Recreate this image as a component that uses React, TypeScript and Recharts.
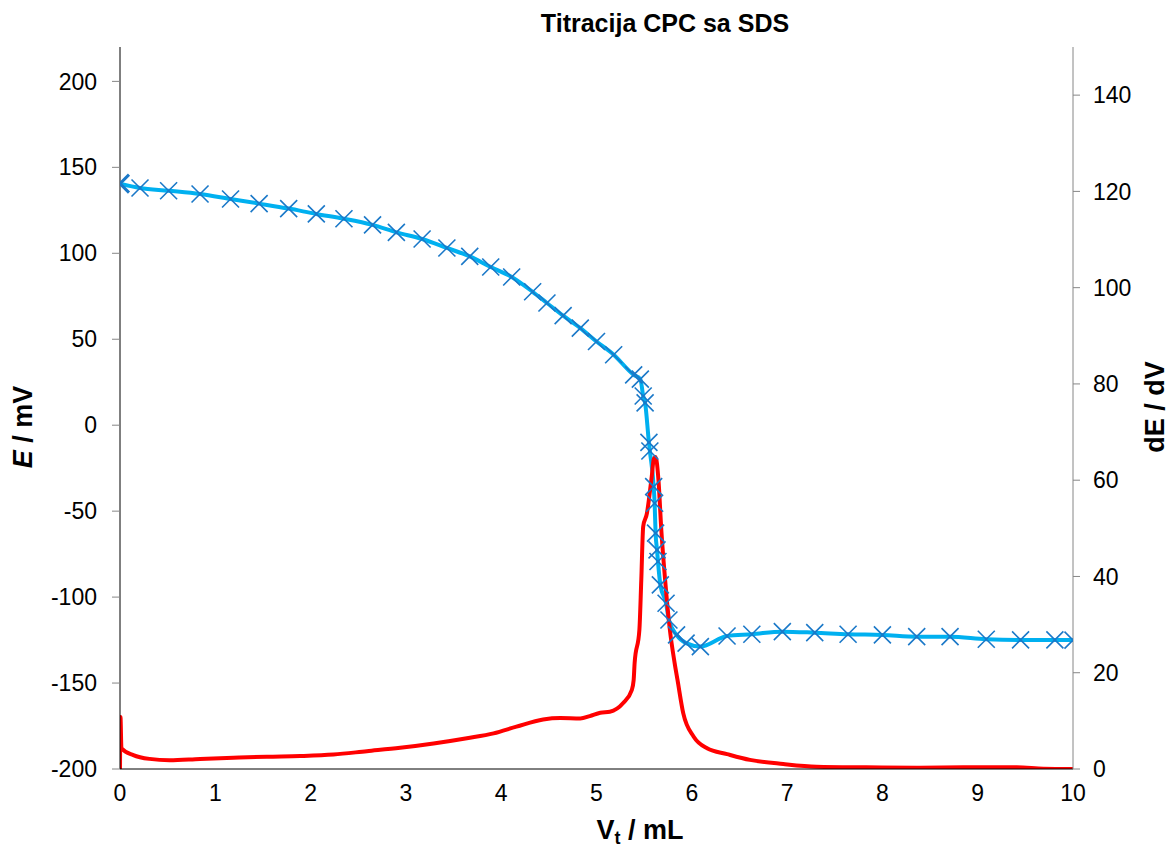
import React from "react";
import { LineChart, Line, XAxis, YAxis } from "recharts";

// potential curve, E / mV vs added volume
const volumeE = [
  0, 0.21, 0.51, 0.84, 1.16, 1.46, 1.77, 2.06, 2.35, 2.65, 2.9, 3.17, 3.43,
  3.67, 3.89, 4.11, 4.33, 4.48, 4.65, 4.83, 5.0, 5.18, 5.39, 5.46, 5.49, 5.51,
  5.55, 5.56, 5.6, 5.61, 5.62, 5.635, 5.645, 5.67, 5.73, 5.76, 5.84, 5.94,
  6.09, 6.37, 6.63, 6.95, 7.29, 7.64, 8.0, 8.36, 8.71, 9.09, 9.45, 9.81, 10,
];
const potentialE = [
  140.5, 138, 136.4, 134.5, 131.6, 128.9, 126, 122.9, 120.1, 116.5, 112.2,
  108.3, 103.1, 98.2, 92, 86.2, 77.6, 71.1, 63.7, 56.5, 48.7, 41, 29.3, 26.8,
  17, 13, -10, -15, -35.7, -45.4, -62.8, -72.5, -79.3, -92.9, -103.6, -113.3,
  -122, -126.8, -128.8, -122.6, -121.6, -120.1, -120.7, -121.6, -122, -123,
  -123, -124.5, -124.9, -124.9, -125,
];

// first derivative, dE / dV
const volumeDeriv = [
  0, 0.005, 0.015, 0.14, 0.31, 0.52, 0.84, 1.19, 1.54, 1.89, 2.24, 2.59, 2.94,
  3.29, 3.64, 3.92, 4.16, 4.44, 4.62, 4.83, 4.93, 5.04, 5.14, 5.28, 5.37, 5.39,
  5.4, 5.45, 5.47, 5.49, 5.53, 5.55, 5.58, 5.6, 5.62, 5.65, 5.68, 5.72, 5.77,
  5.82, 5.85, 5.91, 6.02, 6.16, 6.37, 6.61, 6.96, 7.31, 7.83, 8.36, 8.88, 9.41,
  9.69, 10,
];
const derivative = [
  0, 10.8, 4.3, 2.9, 2.1, 1.8, 2.1, 2.35, 2.56, 2.7, 3.0, 3.7, 4.4, 5.3, 6.4,
  7.4, 8.8, 10.3, 10.6, 10.5, 11, 11.7, 11.9, 13.7, 16.4, 18.5, 22, 28.9, 39.3,
  50.4, 53.2, 56, 60.8, 64.3, 64.8, 60.1, 49.7, 39.3, 28.9, 22, 18.5, 11.6, 6.7,
  4.3, 3.1, 1.9, 1.04, 0.48, 0.35, 0.27, 0.35, 0.35, 0.07, 0,
];

const xTicks = [0, 1, 2, 3, 4, 5, 6, 7, 8, 9, 10];
const leftTicks = [-200, -150, -100, -50, 0, 50, 100, 150, 200];
const rightTicks = [0, 20, 40, 60, 80, 100, 120, 140];

const potentialData = volumeE.map((v, i) => ({ v, E: potentialE[i] }));
const derivData = volumeDeriv.map((v, i) => ({ v, dE: derivative[i] }));

const font = "'Liberation Sans', Arial, sans-serif";
const tickStyle = { fontSize: 23, fill: "#000", fontFamily: font };

function Cross(props: any) {
  const { cx, cy, index } = props;
  if (cx == null || cy == null) return <g key={`c-${index}`} />;
  // first reading is drawn heavier, as in the original sheet
  const s = index === 0 ? 9 : 8.5;
  return (
    <path
      key={`c-${index}`}
      d={`M${cx - s},${cy - s}L${cx + s},${cy + s}M${cx - s},${cy + s}L${cx + s},${cy - s}`}
      stroke="#1a78c8"
      strokeWidth={index === 0 ? 3 : 1.6}
      fill="none"
    />
  );
}

export default function App() {
  return (
    <div
      style={{
        position: "absolute",
        left: 0,
        top: 0,
        width: 1170,
        height: 856,
        background: "#fff",
        fontFamily: font,
      }}
    >
      <LineChart
        width={1170}
        height={856}
        margin={{ top: 47, right: 0, bottom: 27, left: 0 }}
      >
        <XAxis
          type="number"
          dataKey="v"
          domain={[0, 10]}
          ticks={xTicks}
          allowDataOverflow
          height={60}
          tickLine={false}
          tickSize={0}
          tickMargin={16}
          axisLine={{ stroke: "#000", strokeWidth: 1 }}
          tick={tickStyle}
        />
        <YAxis
          yAxisId="left"
          domain={[-200, 220]}
          ticks={leftTicks}
          allowDataOverflow
          width={120}
          tickSize={8}
          tickMargin={15}
          axisLine={{ stroke: "#000", strokeWidth: 1 }}
          tickLine={{ stroke: "#868686" }}
          tick={tickStyle}
        />
        <YAxis
          yAxisId="right"
          orientation="right"
          domain={[0, 150]}
          ticks={rightTicks}
          allowDataOverflow
          width={97}
          tickSize={7}
          tickMargin={13}
          axisLine={{ stroke: "#868686", strokeWidth: 1 }}
          tickLine={{ stroke: "#868686" }}
          tick={tickStyle}
        />
        <Line
          yAxisId="left"
          data={potentialData}
          dataKey="E"
          type="monotone"
          stroke="#00b0f0"
          strokeWidth={4}
          dot={Cross}
          activeDot={false}
          isAnimationActive={false}
        />
        <Line
          yAxisId="right"
          data={derivData}
          dataKey="dE"
          type="monotone"
          stroke="#ff0000"
          strokeWidth={4}
          dot={false}
          activeDot={false}
          isAnimationActive={false}
        />
      </LineChart>

      <div
        style={{
          position: "absolute",
          left: 665,
          top: 11,
          transform: "translateX(-50%)",
          fontSize: 25,
          fontWeight: "bold",
          whiteSpace: "nowrap",
          lineHeight: 1,
        }}
      >
        Titracija CPC sa SDS
      </div>
      <div
        style={{
          position: "absolute",
          left: 23,
          top: 427,
          transform: "translate(-50%, -50%) rotate(-90deg)",
          fontSize: 27,
          fontWeight: "bold",
          whiteSpace: "nowrap",
          lineHeight: 1,
        }}
      >
        <i>E</i> / mV
      </div>
      <div
        style={{
          position: "absolute",
          left: 1155,
          top: 407,
          transform: "translate(-50%, -50%) rotate(-90deg)",
          fontSize: 27,
          fontWeight: "bold",
          whiteSpace: "nowrap",
          lineHeight: 1,
        }}
      >
        dE / dV
      </div>
      <div
        style={{
          position: "absolute",
          left: 640,
          top: 832,
          transform: "translate(-50%, -50%)",
          fontSize: 27,
          fontWeight: "bold",
          whiteSpace: "nowrap",
          lineHeight: 1,
        }}
      >
        V<sub style={{ fontSize: 18, verticalAlign: "-0.3em" }}>t</sub> / mL
      </div>
    </div>
  );
}
